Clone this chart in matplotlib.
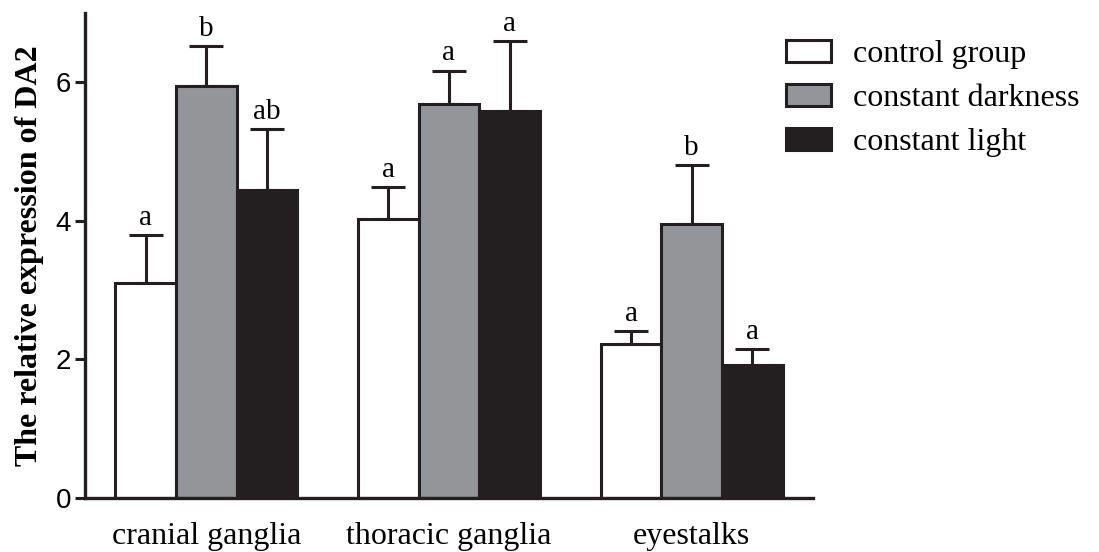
import numpy as np
import matplotlib.pyplot as plt

# data
tissues = ['cranial ganglia', 'thoracic ganglia', 'eyestalks']
groups = ['control group', 'constant darkness', 'constant light']
means = {
    'control group': [3.11, 4.02, 2.23],
    'constant darkness': [5.94, 5.68, 3.95],
    'constant light': [4.45, 5.59, 1.92],
}
errs = {
    'control group': [0.68, 0.47, 0.18],
    'constant darkness': [0.58, 0.49, 0.86],
    'constant light': [0.87, 1.00, 0.23],
}
letters = {
    'control group': ['a', 'a', 'a'],
    'constant darkness': ['b', 'a', 'b'],
    'constant light': ['ab', 'a', 'a'],
}
colors = ['white', '#939598', '#231f20']

fig = plt.figure(figsize=(10.99, 5.52), dpi=100)
ax = fig.add_axes([0.0773, 0.0978, 0.6625, 0.8786])

x = np.arange(len(tissues))
width = 0.25
for i, g in enumerate(groups):
    pos = x + (i - 1) * width
    ax.bar(pos, means[g], width, color=colors[i], edgecolor='#231f20',
           linewidth=2.2, label=g, zorder=2)
    ax.errorbar(pos, means[g], yerr=[np.zeros(3), errs[g]], fmt='none',
                ecolor='#231f20', elinewidth=2.2, capsize=12, capthick=2.2, zorder=1)
    for p, m, e, t in zip(pos, means[g], errs[g], letters[g]):
        ax.text(p, m + e + 0.06, t, ha='center', va='bottom',
                family='Liberation Serif', fontsize=21)

ax.set_xlim(-0.5, 2.5)
ax.set_ylim(0, 7)
ax.set_yticks([0, 2, 4, 6])
ax.set_xticks(x)
ax.set_xticklabels(tissues, family='Liberation Serif', fontsize=23)
for lab in ax.get_yticklabels():
    lab.set_family('Liberation Sans')
    lab.set_fontsize(20)
ax.tick_params(axis='x', length=0, pad=17)
ax.tick_params(axis='y', length=7, width=2.2, color='#231f20', pad=3)
for s in ['top', 'right']:
    ax.spines[s].set_visible(False)
for s in ['left', 'bottom']:
    ax.spines[s].set_linewidth(2.4)
    ax.spines[s].set_color('#231f20')

ax.set_ylabel('The relative expression of DA2', family='Liberation Serif',
              fontsize=23, fontweight='bold', labelpad=8)

leg = fig.legend(loc='upper left', bbox_to_anchor=(0.7005, 0.956), frameon=False,
                 prop={'family': 'Liberation Serif', 'size': 23},
                 handlelength=1.4, handleheight=0.65, handletextpad=0.7,
                 labelspacing=0.47, borderpad=0)

fig.savefig('out.png', dpi=100)
